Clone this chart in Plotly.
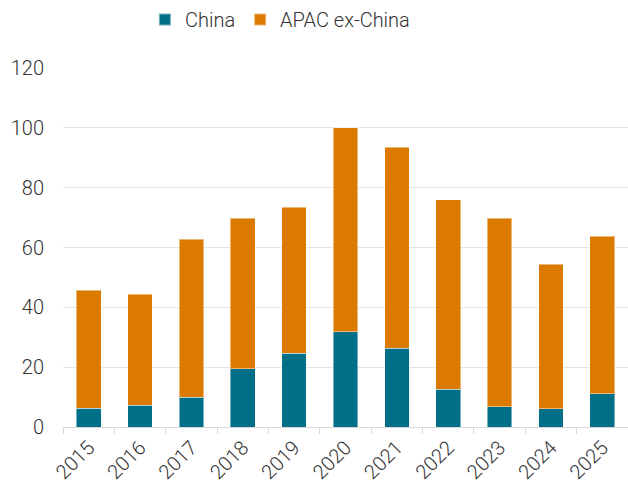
import plotly.graph_objects as go

years = ["2015", "2016", "2017", "2018", "2019", "2020", "2021", "2022", "2023", "2024", "2025"]
china = [6.2, 7.2, 9.9, 19.4, 24.6, 31.8, 26.4, 12.6, 6.8, 6.1, 11.1]
apac_ex_china = [39.5, 37.1, 52.9, 50.4, 48.9, 68.2, 67.1, 63.3, 62.9, 48.3, 52.7]
y_ticks = [0, 20, 40, 60, 80, 100, 120]

FONT = "Roboto"
TXT = "#333333"

fig = go.Figure()
fig.add_trace(go.Bar(x=years, y=china, name="China",
                     marker=dict(color="#006f87", line=dict(color="rgba(255,255,255,0.45)", width=1))))
fig.add_trace(go.Bar(x=years, y=apac_ex_china, name="APAC ex-China",
                     marker=dict(color="#dc7a00", line=dict(color="rgba(255,255,255,0.45)", width=1))))

fig.update_layout(
    barmode="stack",
    bargap=0.52,
    width=628, height=487,
    margin=dict(l=63, r=0, t=68, b=60, pad=0),
    paper_bgcolor="white", plot_bgcolor="white",
    font=dict(family=FONT, size=20, color=TXT, weight=300),
    showlegend=True,
    legend=dict(orientation="h", x=0.145, xanchor="left", y=1.0, yref="container",
                yanchor="top", traceorder="normal",
                font=dict(family=FONT, size=20, color=TXT, weight=300),
                itemwidth=30, itemsizing="constant", tracegroupgap=0),
    xaxis=dict(type="category", tickangle=-45, showgrid=False,
               showline=True, linecolor="#d9d9d9", linewidth=1,
               ticks="outside", tickson="boundaries", ticklen=6, tickcolor="#d9d9d9",
               tickfont=dict(family=FONT, size=20, color=TXT, weight=300)),
    yaxis=dict(range=[0, 120], tickvals=y_ticks, showgrid=True, gridcolor="#e3e3e3", gridwidth=1,
               zeroline=False, showline=False, ticks="", ticklabelstandoff=18,
               tickfont=dict(family=FONT, size=20, color=TXT, weight=300)),
)

fig.write_html("out.html")
